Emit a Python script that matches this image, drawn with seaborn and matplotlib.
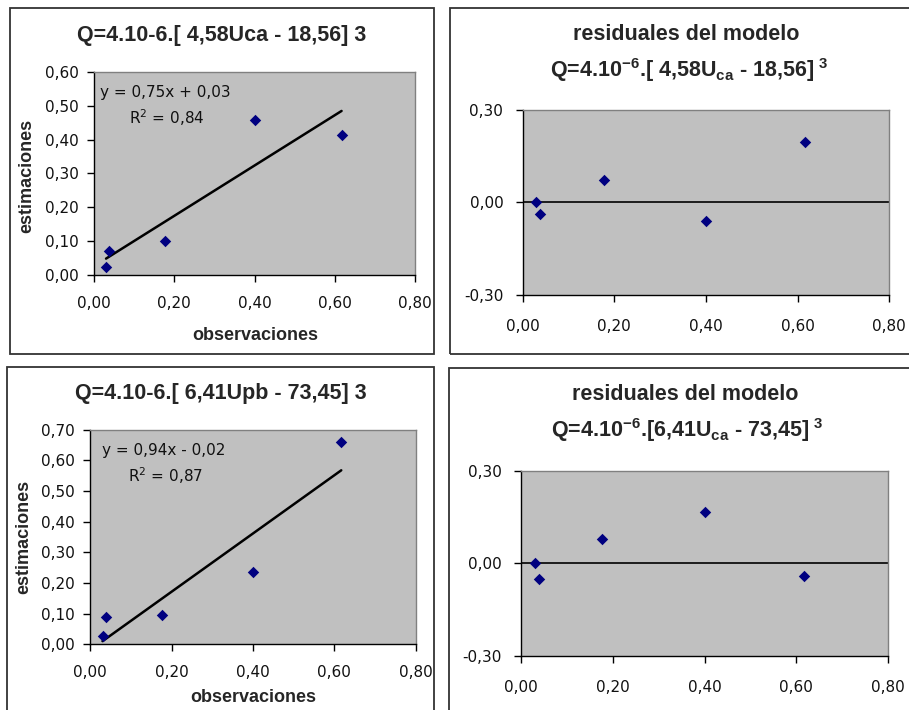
import numpy as np
import pandas as pd
import matplotlib
matplotlib.use("Agg")
import matplotlib.pyplot as plt
import seaborn as sns
from matplotlib.patches import Rectangle
from matplotlib.ticker import FuncFormatter, FixedLocator

# ---------------- data ----------------
observaciones = [0.030, 0.038, 0.177, 0.400, 0.617]
estimaciones_ca = [0.025, 0.072, 0.100, 0.457, 0.415]
residuales_ca = [0.003, -0.038, 0.072, -0.060, 0.197]
estimaciones_pb = [0.027, 0.088, 0.097, 0.236, 0.659]
residuales_pb = [0.000, -0.051, 0.079, 0.165, -0.041]

x_ticks = [0.0, 0.2, 0.4, 0.6, 0.8]
y_ticks_ca = [0.0, 0.1, 0.2, 0.3, 0.4, 0.5, 0.6]
y_ticks_pb = [0.0, 0.1, 0.2, 0.3, 0.4, 0.5, 0.6, 0.7]
res_ticks = [-0.3, 0.0, 0.3]

title_ca = "Q=4.10-6.[ 4,58Uca - 18,56] 3"
title_pb = "Q=4.10-6.[ 6,41Upb - 73,45] 3"
eq_ca = ["y = 0,75x + 0,03", "R$^2$ = 0,84"]
eq_pb = ["y = 0,94x - 0,02", "R$^2$ = 0,87"]
res_title_1 = "residuales del modelo"
res_title_ca = r"Q=4.10$^{\mathbf{-6}}$.[ 4,58U$_{\mathbf{ca}}$ - 18,56]$^{\mathbf{\ 3}}$"
res_title_pb = r"Q=4.10$^{\mathbf{-6}}$.[6,41U$_{\mathbf{ca}}$ - 73,45]$^{\mathbf{\ 3}}$"

df_ca = pd.DataFrame({"obs": observaciones, "est": estimaciones_ca, "res": residuales_ca})
df_pb = pd.DataFrame({"obs": observaciones, "est": estimaciones_pb, "res": residuales_pb})

# ---------------- style ----------------
sns.set_theme(style="white")
plt.rcParams["font.family"] = ["DejaVu Sans"]
plt.rcParams["mathtext.fontset"] = "custom"
plt.rcParams["mathtext.rm"] = "DejaVu Sans"
plt.rcParams["mathtext.it"] = "DejaVu Sans"
plt.rcParams["mathtext.bf"] = "Liberation Sans:bold"

TITLE_FONT = ["Liberation Sans", "DejaVu Sans"]

W, H = 909, 710
fig = plt.figure(figsize=(W / 100, H / 100), dpi=100)
fig.patch.set_facecolor("white")


def fx(px):
    return px / W


def fy(py):
    return 1 - py / H


def add_ax(x0, y0, x1, y1):
    return fig.add_axes([fx(x0), fy(y1), (x1 - x0) / W, (y1 - y0) / H])


def comma(v, pos=None):
    return f"{v:.2f}".replace(".", ",")


PLOT_BG = "#C0C0C0"
NAVY = "#000080"


def style_ax(ax, xpad, ypad):
    ax.set_facecolor(PLOT_BG)
    for s in ["top", "right"]:
        ax.spines[s].set_color("#808080")
        ax.spines[s].set_linewidth(1.0)
    for s in ["left", "bottom"]:
        ax.spines[s].set_color("black")
        ax.spines[s].set_linewidth(1.0)
    ax.tick_params(axis="both", which="major", direction="out", length=5, width=1,
                   color="black", labelsize=11, labelcolor="#111111",
                   bottom=True, left=True)
    ax.tick_params(axis="x", pad=xpad)
    ax.tick_params(axis="y", pad=ypad)
    ax.xaxis.set_major_formatter(FuncFormatter(comma))
    ax.yaxis.set_major_formatter(FuncFormatter(comma))
    ax.set_xlabel("")
    ax.set_ylabel("")
    ax.grid(False)


# frames
for (x0, y0, x1, y1) in [(10, 8, 434, 354), (450, 8, 920, 354),
                         (7, 367, 434, 720), (449, 368, 920, 720)]:
    fig.patches.append(Rectangle((fx(x0), fy(y1)), (x1 - x0) / W, (y1 - y0) / H,
                                 transform=fig.transFigure, fill=False,
                                 edgecolor="#333333", linewidth=1.3, zorder=0))


def regression_panel(box, df, yticks, ymax, title, title_xy, eq, eq_xy, ylab_xy, xlab_xy):
    ax = add_ax(*box)
    sns.regplot(data=df, x="obs", y="est", ax=ax, scatter=False, ci=None, truncate=True,
                line_kws={"color": "black", "linewidth": 1.8, "zorder": 2})
    sns.scatterplot(data=df, x="obs", y="est", ax=ax, marker="D", s=34, color=NAVY,
                    edgecolor=NAVY, linewidth=0, zorder=3)
    ax.set_xlim(0, 0.8)
    ax.set_ylim(0, ymax)
    ax.xaxis.set_major_locator(FixedLocator(x_ticks))
    ax.yaxis.set_major_locator(FixedLocator(yticks))
    style_ax(ax, xpad=10, ypad=6)
    fig.text(fx(title_xy[0]), fy(title_xy[1]), title, ha="center", va="center",
             fontsize=15.5, fontweight="bold", family=TITLE_FONT)
    fig.text(fx(eq_xy[0][0]), fy(eq_xy[0][1]), eq[0], ha="left", va="center",
             fontsize=11, color="#111111")
    fig.text(fx(eq_xy[1][0]), fy(eq_xy[1][1]), eq[1], ha="left", va="center",
             fontsize=11, color="#111111")
    fig.text(fx(ylab_xy[0]), fy(ylab_xy[1]), "estimaciones", ha="center", va="center",
             rotation=90, fontsize=13, fontweight="bold", family=TITLE_FONT)
    fig.text(fx(xlab_xy[0]), fy(xlab_xy[1]), "observaciones", ha="center", va="center",
             fontsize=13, fontweight="bold", family=TITLE_FONT)
    return ax


def residual_panel(box, df, t1, t2, t1_xy, t2_xy):
    ax = add_ax(*box)
    ax.axhline(0, color="black", linewidth=1.2, zorder=2)
    sns.scatterplot(data=df, x="obs", y="res", ax=ax, marker="D", s=34, color=NAVY,
                    edgecolor=NAVY, linewidth=0, zorder=3)
    ax.set_xlim(0, 0.8)
    ax.set_ylim(-0.3, 0.3)
    ax.xaxis.set_major_locator(FixedLocator(x_ticks))
    ax.yaxis.set_major_locator(FixedLocator(res_ticks))
    style_ax(ax, xpad=12, ypad=9)
    fig.text(fx(t1_xy[0]), fy(t1_xy[1]), t1, ha="center", va="center",
             fontsize=15.5, fontweight="bold", family=TITLE_FONT)
    fig.text(fx(t2_xy[0]), fy(t2_xy[1]), t2, ha="center", va="center",
             fontsize=15.5, fontweight="bold", family=TITLE_FONT)
    return ax


regression_panel((94, 72, 415, 275), df_ca, y_ticks_ca, 0.6, title_ca, (222, 36),
                 eq_ca, [(100, 92), (129, 118)], (27, 176), (255, 335))
residual_panel((522.7, 109.7, 889.3, 295.3), df_ca, res_title_1, res_title_ca,
               (686, 35), (689, 70))
regression_panel((90.3, 429.7, 415.7, 644.3), df_pb, y_ticks_pb, 0.7, title_pb, (221, 394),
                 eq_pb, [(102, 450), (128, 476)], (24, 537), (253, 697))
residual_panel((521.3, 470.7, 887.7, 656), df_pb, res_title_1, res_title_pb,
               (685, 395), (687, 430))

fig.savefig("out.png", dpi=100)
